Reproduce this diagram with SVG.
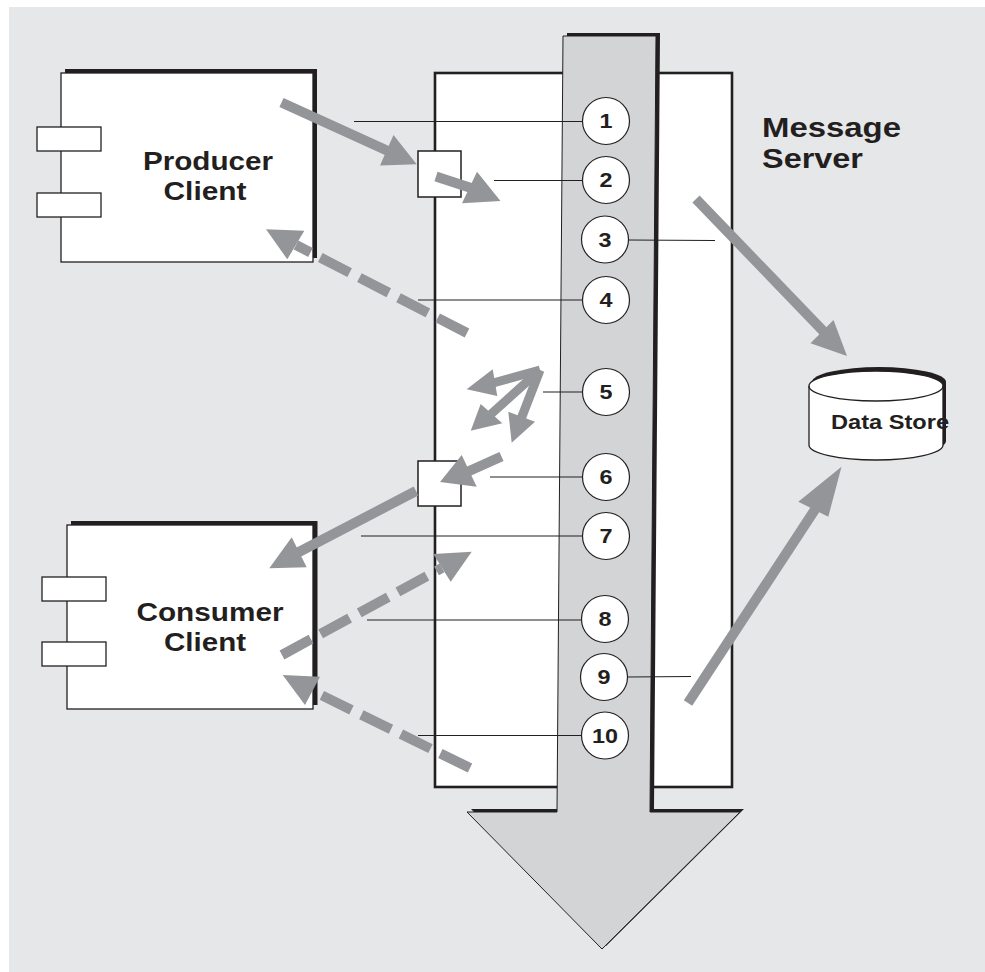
<svg xmlns="http://www.w3.org/2000/svg" width="985" height="972" viewBox="0 0 985 972">
<defs>
<style>
.bg{fill:#e6e7e9}
.box{fill:#fff;stroke:#231f20;stroke-width:1.3}
.shadow{fill:#231f20}
.srv{fill:#fff;stroke:#231f20;stroke-width:2.6}
.port{fill:#fff;stroke:#231f20;stroke-width:1.5}
.lead{stroke:#231f20;stroke-width:1.1;fill:none}
.num{fill:#fff;stroke:#231f20;stroke-width:1.2}
.t{font-family:"Liberation Sans",Arial,sans-serif;font-weight:bold;fill:#231f20}
.shaft{stroke:#939598;stroke-width:10;fill:none}
.thin{stroke:#939598;stroke-width:9;fill:none}
.dash{stroke:#939598;stroke-width:10;fill:none;stroke-dasharray:33 11}
.head{fill:#939598}
</style>
</defs>
<rect class="bg" x="9" y="7" width="976" height="965"/>

<g id="message-server">
<rect class="srv" x="435" y="73" width="297" height="714"/>
<text class="t" x="762" y="137" font-size="27" textLength="139" lengthAdjust="spacingAndGlyphs">Message</text>
<text class="t" x="762" y="168" font-size="27" textLength="101" lengthAdjust="spacingAndGlyphs">Server</text>
</g>

<g id="flow-arrow">
<polygon class="shadow" transform="translate(4,-3)" points="563,36 656,36 650,812 740,812 602,949 467,812 557,812"/>
<polygon fill="#d3d4d6" stroke="#231f20" stroke-width="1" points="563,36 656,36 650,812 740,812 602,949 467,812 557,812"/>
</g>

<g id="producer-client">
<rect class="shadow" x="65" y="69" width="252" height="189"/>
<rect class="box" x="61" y="73" width="252" height="189"/>
<rect class="box" x="37" y="127" width="64" height="24"/>
<rect class="box" x="37" y="193" width="64" height="24"/>
<text class="t" x="208" y="170" font-size="25" text-anchor="middle" textLength="130" lengthAdjust="spacingAndGlyphs">Producer</text>
<text class="t" x="205" y="200" font-size="25" text-anchor="middle" textLength="83" lengthAdjust="spacingAndGlyphs">Client</text>
</g>

<g id="consumer-client">
<rect class="shadow" x="71" y="521" width="246.5" height="184"/>
<rect class="box" x="67" y="525" width="246" height="184"/>
<rect class="box" x="42" y="577" width="64" height="24"/>
<rect class="box" x="42" y="642" width="64" height="24"/>
<text class="t" x="210" y="621" font-size="25" text-anchor="middle" textLength="147" lengthAdjust="spacingAndGlyphs">Consumer</text>
<text class="t" x="205" y="651" font-size="25" text-anchor="middle" textLength="82" lengthAdjust="spacingAndGlyphs">Client</text>
</g>

<g id="data-store">
<path class="shadow" transform="translate(3,-4)" d="M809,386 A67,15 0 0 1 943,386 L943,445 A67,15 0 0 1 809,445 Z"/>
<path fill="#fff" stroke="#231f20" stroke-width="1.3" d="M809,386 A67,15 0 0 1 943,386 L943,445 A67,15 0 0 1 809,445 Z"/>
<path fill="none" stroke="#231f20" stroke-width="1.3" d="M809,386 A67,15 0 0 0 943,386"/>
<text class="t" x="831" y="429" font-size="20" textLength="118" lengthAdjust="spacingAndGlyphs">Data Store</text>
</g>

<g id="port-in">
<rect class="port" x="418" y="151" width="43" height="46"/>
</g>
<g id="port-out">
<rect class="port" x="418" y="461" width="43" height="45"/>
</g>

<g id="leaders">
<line class="lead" x1="354" y1="121.5" x2="582" y2="121.5"/>
<line class="lead" x1="494" y1="180.5" x2="582" y2="180.5"/>
<line class="lead" x1="628" y1="240" x2="715" y2="240.5"/>
<line class="lead" x1="418" y1="300" x2="582" y2="300"/>
<line class="lead" x1="543" y1="392" x2="582" y2="392"/>
<line class="lead" x1="490" y1="477" x2="582" y2="477"/>
<line class="lead" x1="361" y1="536" x2="582" y2="536"/>
<line class="lead" x1="367" y1="620" x2="582" y2="620"/>
<line class="lead" x1="628" y1="677" x2="691" y2="676.5"/>
<line class="lead" x1="418" y1="735.5" x2="582" y2="735.5"/>
</g>

<g id="step-1"><circle class="num" cx="606" cy="121" r="23.5"/><text class="t" x="606" y="128" font-size="20" text-anchor="middle" textLength="13" lengthAdjust="spacingAndGlyphs">1</text></g>
<g id="step-2"><circle class="num" cx="606" cy="180" r="23.5"/><text class="t" x="606" y="187" font-size="20" text-anchor="middle" textLength="13" lengthAdjust="spacingAndGlyphs">2</text></g>
<g id="step-3"><circle class="num" cx="605" cy="239.5" r="23.5"/><text class="t" x="605" y="246.5" font-size="20" text-anchor="middle" textLength="13" lengthAdjust="spacingAndGlyphs">3</text></g>
<g id="step-4"><circle class="num" cx="606" cy="300" r="23.5"/><text class="t" x="606" y="307" font-size="20" text-anchor="middle" textLength="13" lengthAdjust="spacingAndGlyphs">4</text></g>
<g id="step-5"><circle class="num" cx="606" cy="392" r="23.5"/><text class="t" x="606" y="399" font-size="20" text-anchor="middle" textLength="13" lengthAdjust="spacingAndGlyphs">5</text></g>
<g id="step-6"><circle class="num" cx="606" cy="477" r="23.5"/><text class="t" x="606" y="484" font-size="20" text-anchor="middle" textLength="13" lengthAdjust="spacingAndGlyphs">6</text></g>
<g id="step-7"><circle class="num" cx="606" cy="536" r="23.5"/><text class="t" x="606" y="543" font-size="20" text-anchor="middle" textLength="13" lengthAdjust="spacingAndGlyphs">7</text></g>
<g id="step-8"><circle class="num" cx="605" cy="619" r="23.5"/><text class="t" x="605" y="626" font-size="20" text-anchor="middle" textLength="13" lengthAdjust="spacingAndGlyphs">8</text></g>
<g id="step-9"><circle class="num" cx="604" cy="677" r="23.5"/><text class="t" x="604" y="684" font-size="20" text-anchor="middle" textLength="13" lengthAdjust="spacingAndGlyphs">9</text></g>
<g id="step-10"><circle class="num" cx="605" cy="735.5" r="23.5"/><text class="t" x="605" y="742.5" font-size="20" text-anchor="middle" textLength="26" lengthAdjust="spacingAndGlyphs">10</text></g>

<g id="connectors">
<line class="shaft" x1="281.5" y1="102.5" x2="388" y2="151"/>
<polygon class="head" points="416.7,164.3 380,165.5 393.5,135"/>
<line class="shaft" x1="436" y1="176.5" x2="471" y2="188"/>
<polygon class="head" points="500.5,201 462,203.3 477,171.7"/>
<line class="dash" x1="467" y1="333" x2="296" y2="245"/>
<polygon class="head" points="266,229.3 304.3,230.7 287.3,259.3"/>
<line class="shaft" x1="696" y1="199" x2="826" y2="334"/>
<polygon class="head" points="847,356 810.5,343.3 833.5,320"/>
<line class="thin" x1="540" y1="370" x2="493" y2="383"/>
<polygon class="head" points="466.7,389.3 492.7,369.3 497.3,396"/>
<line class="thin" x1="540" y1="370" x2="490" y2="415"/>
<polygon class="head" points="470.7,430.7 480.7,404 502.3,423.3"/>
<line class="thin" x1="540" y1="370" x2="521" y2="419"/>
<polygon class="head" points="511.7,442.7 508.3,411.7 535,421.7"/>
<line class="shaft" x1="501.5" y1="456.5" x2="467" y2="472"/>
<polygon class="head" points="440,482 461.7,455 476.7,486.7"/>
<line class="shaft" x1="416" y1="491" x2="297" y2="553"/>
<polygon class="head" points="269.3,568.3 291.7,537.3 306.7,567.3"/>
<line class="dash" x1="282" y1="655" x2="442" y2="567.8"/>
<polygon class="head" points="471.7,551.7 433.3,554 450.7,581.7"/>
<line class="dash" x1="470" y1="768" x2="312.5" y2="690.8"/>
<polygon class="head" points="282.7,675 320,676.7 305,705"/>
<line class="shaft" x1="688" y1="703" x2="816" y2="508"/>
<polygon class="head" points="841.5,466.7 798.3,501.7 828.3,516.7"/>
</g>
</svg>
